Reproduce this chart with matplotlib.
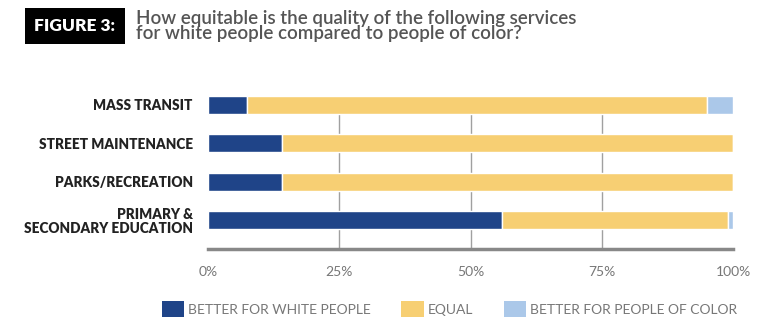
import numpy as np
import matplotlib.pyplot as plt
from matplotlib.patches import Patch

services = ['MASS TRANSIT', 'STREET MAINTENANCE', 'PARKS/RECREATION',
            'PRIMARY &\nSECONDARY EDUCATION']
better_white = [7.5, 14, 14, 56]
equal = [87.5, 86, 86, 43]
better_poc = [5, 0, 0, 1]
ticks = [0, 25, 50, 75, 100]
tick_labels = ['0%', '25%', '50%', '75%', '100%']
series_names = ['BETTER FOR WHITE PEOPLE', 'EQUAL', 'BETTER FOR PEOPLE OF COLOR']
colors = ['#1f4488', '#f7cf73', '#abc8e9']

plt.rcParams['font.family'] = ['Lato', 'DejaVu Sans']

fig = plt.figure(figsize=(7.71, 3.31), dpi=100)
ax = fig.add_axes([208 / 771, 1 - 249 / 331, 525 / 771, (249 - 96) / 331])

y = np.arange(len(services))
h = 0.46
left = np.zeros(len(services))
for vals, c in zip([better_white, equal, better_poc], colors):
    ax.barh(y, vals, left=left, height=h, color=c, edgecolor='white',
            linewidth=1, zorder=3)
    left += np.array(vals)

for t in ticks[1:-1]:
    ax.axvline(t, color='#a0a0a0', linewidth=1, zorder=1)

ax.set_xlim(0, 100)
ax.set_ylim(3.75, -h / 2)
ax.set_yticks(y)
ax.set_yticklabels(services, fontsize=9.8, fontweight='heavy', color='#222222',
                   linespacing=1.1)
ax.set_xticks(ticks)
ax.set_xticklabels(tick_labels, fontsize=10, color='#777777')
ax.tick_params(axis='both', length=0)
ax.tick_params(axis='y', pad=11)
ax.tick_params(axis='x', pad=12)
for s in ['top', 'right', 'left']:
    ax.spines[s].set_visible(False)
ax.spines['bottom'].set_color('#888888')
ax.spines['bottom'].set_linewidth(2.5)

# header
fig.text(75 / 771, 1 - 26 / 331, 'FIGURE 3:', fontsize=12.5, fontweight='heavy',
         color='white', ha='center', va='center',
         bbox=dict(boxstyle='square,pad=0.55', facecolor='black', edgecolor='none'))
fig.text(136 / 771, 1 - 26 / 331,
         'How equitable is the quality of the following services\n'
         'for white people compared to people of color?',
         fontsize=13.5, color='#555555', ha='left', va='center', linespacing=0.85,
         fontweight='semibold')

handles = [Patch(facecolor=c, edgecolor='none') for c in colors]
fig.legend(handles, series_names, loc='center', bbox_to_anchor=(0.583, 1 - 309 / 331),
           ncol=3, frameon=False, fontsize=10, labelcolor='#777777',
           handlelength=1.6, handleheight=1.3, handletextpad=0.3, columnspacing=2.2)

fig.savefig('out.png', dpi=100)
